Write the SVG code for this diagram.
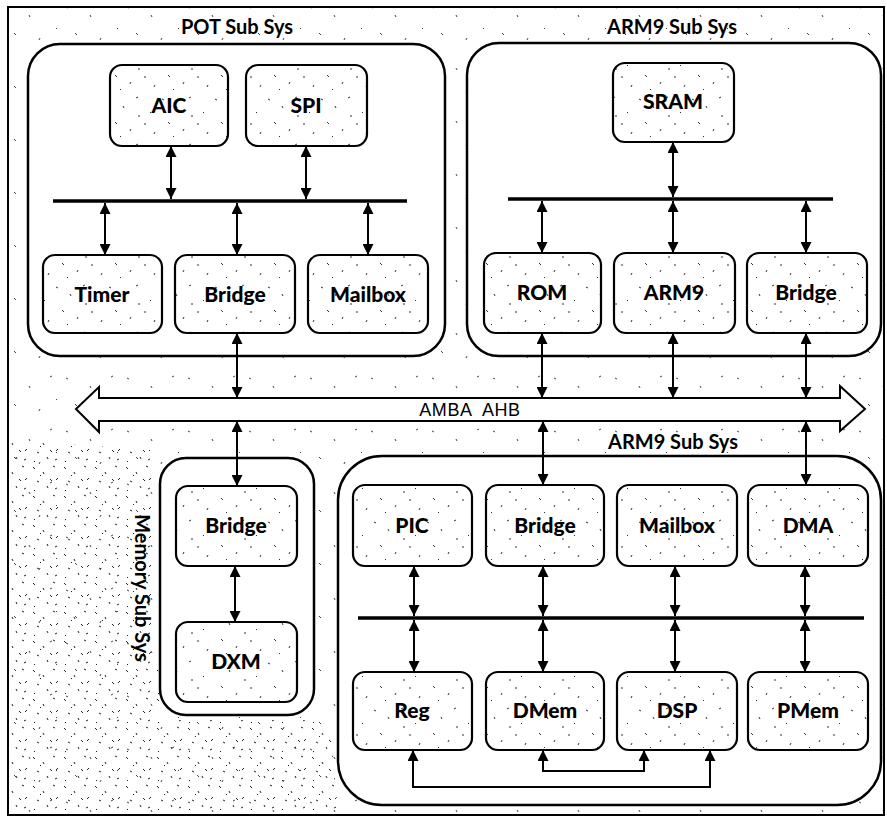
<svg xmlns="http://www.w3.org/2000/svg" width="887" height="817" viewBox="0 0 887 817">
<style>
.cont{fill:#fff;stroke:#000;stroke-width:2.5}
.box{fill:url(#nz);stroke:#000;stroke-width:2.2}
.lbl{font-family:Lato,"Open Sans","Liberation Sans",sans-serif;font-weight:900;font-size:21px;text-anchor:middle;fill:#000}
.ttl{font-family:Lato,"Open Sans","Liberation Sans",sans-serif;font-weight:700;font-size:20px;text-anchor:middle;fill:#000}
.bus{stroke:#000;stroke-width:3.5;fill:none}
.con{stroke:#000;stroke-width:2;fill:none;marker-start:url(#ah);marker-end:url(#ah)}
</style>
<defs>
<marker id="ah" viewBox="0 0 11 11" refX="11" refY="5.5" markerWidth="11" markerHeight="11" markerUnits="userSpaceOnUse" orient="auto-start-reverse">
<path d="M0,0 L11,5.5 L0,11 z" fill="#000"/>
</marker>
<pattern id="nz" width="53" height="47" patternUnits="userSpaceOnUse">
<rect width="53" height="47" fill="#fff"/>
<path d="M3,5 l2,1 M17,12 l1,2 M30,4 l2,-1 M44,18 l1,1 M9,28 l2,2 M25,35 l-1,2 M38,30 l2,0 M48,40 l1,-2 M14,42 l1,1 M33,21 l0,2" stroke="#333" stroke-width="1"/>
</pattern>
<pattern id="nzs" width="61" height="53" patternUnits="userSpaceOnUse">
<rect width="61" height="53" fill="#fff"/>
<path d="M5,7 l2,1 M29,15 l1,2 M50,6 l2,-1 M14,33 l2,2 M40,38 l-1,2 M56,28 l1,1" stroke="#444" stroke-width="1"/>
</pattern>
<pattern id="nz2" width="31" height="29" patternUnits="userSpaceOnUse">
<path d="M2,3 l2,2 M12,8 l1,2 M22,2 l2,1 M27,14 l-2,2 M6,17 l2,1 M16,22 l1,2 M24,25 l2,-1 M9,12 l1,-1 M19,15 l2,2 M3,26 l1,1" stroke="#222" stroke-width="1"/>
</pattern>
</defs>

<g id="background">
<rect x="8" y="7" width="876" height="808" fill="url(#nzs)" stroke="#000" stroke-width="2"/>
<path d="M10,440 L150,450 L160,720 L330,720 L338,813 L10,813 z" fill="url(#nz2)"/>
</g>

<g id="pot-subsys">
<rect class="cont" x="28" y="44" width="417" height="312" rx="32"/>
<text class="ttl" x="237" y="34">POT Sub Sys</text>
</g>
<g id="pot-aic"><rect class="box" x="110" y="65" width="118" height="81" rx="12"/><text class="lbl" x="169" y="113">AIC</text></g>
<g id="pot-spi"><rect class="box" x="246" y="65" width="121" height="81" rx="12"/><text class="lbl" x="306" y="113">SPI</text></g>
<g id="pot-timer"><rect class="box" x="43" y="255" width="119" height="78" rx="12"/><text class="lbl" x="102" y="302">Timer</text></g>
<g id="pot-bridge"><rect class="box" x="175" y="255" width="120" height="78" rx="12"/><text class="lbl" x="235" y="302">Bridge</text></g>
<g id="pot-mailbox"><rect class="box" x="308" y="255" width="120" height="78" rx="12"/><text class="lbl" x="368" y="302">Mailbox</text></g>

<g id="arm9-top-subsys">
<rect class="cont" x="467" y="43" width="414" height="313" rx="32"/>
<text class="ttl" x="672" y="34">ARM9 Sub Sys</text>
</g>
<g id="sram"><rect class="box" x="613" y="63" width="121" height="79" rx="12"/><text class="lbl" x="673" y="109">SRAM</text></g>
<g id="rom"><rect class="box" x="484" y="253" width="117" height="80" rx="12"/><text class="lbl" x="542" y="300">ROM</text></g>
<g id="arm9"><rect class="box" x="614" y="253" width="121" height="80" rx="12"/><text class="lbl" x="674" y="300">ARM9</text></g>
<g id="arm9-bridge"><rect class="box" x="747" y="253" width="120" height="80" rx="12"/><text class="lbl" x="806" y="300">Bridge</text></g>

<g id="amba-ahb">
<polygon points="76,409 99,387 99,398 840,398 840,386 865,409 840,431 840,421 99,421 99,432" fill="#fff" stroke="#000" stroke-width="2"/>
<text x="470" y="416" font-family="'Liberation Sans',Arial,sans-serif" font-size="18" text-anchor="middle" style="white-space:pre" letter-spacing="0.6">AMBA  AHB</text>
</g>

<g id="memory-subsys">
<rect class="cont" x="160" y="458" width="154" height="257" rx="26"/>
<text class="ttl" transform="translate(135,588) rotate(90)" x="0" y="0">Memory Sub Sys</text>
</g>
<g id="mem-bridge"><rect class="box" x="176" y="486" width="121" height="80" rx="12"/><text class="lbl" x="236" y="533">Bridge</text></g>
<g id="dxm"><rect class="box" x="176" y="622" width="121" height="80" rx="12"/><text class="lbl" x="236" y="669">DXM</text></g>

<g id="arm9-bottom-subsys">
<rect class="cont" x="338" y="456" width="543" height="349" rx="44"/>
<text class="ttl" x="673" y="449">ARM9 Sub Sys</text>
</g>
<g id="pic"><rect class="box" x="353" y="485" width="119" height="81" rx="12"/><text class="lbl" x="412" y="533">PIC</text></g>
<g id="dsp-bridge"><rect class="box" x="486" y="485" width="118" height="81" rx="12"/><text class="lbl" x="545" y="533">Bridge</text></g>
<g id="dsp-mailbox"><rect class="box" x="617" y="485" width="120" height="81" rx="12"/><text class="lbl" x="677" y="533">Mailbox</text></g>
<g id="dma"><rect class="box" x="748" y="485" width="120" height="81" rx="12"/><text class="lbl" x="808" y="533">DMA</text></g>
<g id="reg"><rect class="box" x="353" y="672" width="119" height="78" rx="12"/><text class="lbl" x="412" y="718">Reg</text></g>
<g id="dmem"><rect class="box" x="486" y="672" width="118" height="78" rx="12"/><text class="lbl" x="545" y="718">DMem</text></g>
<g id="dsp"><rect class="box" x="617" y="672" width="120" height="78" rx="12"/><text class="lbl" x="677" y="718">DSP</text></g>
<g id="pmem"><rect class="box" x="748" y="672" width="120" height="78" rx="12"/><text class="lbl" x="808" y="718">PMem</text></g>

<g id="connectors">
<line class="bus" x1="53" y1="201" x2="407" y2="201"/>
<line class="bus" x1="508" y1="199" x2="833" y2="199"/>
<line class="bus" x1="358" y1="618" x2="864" y2="618"/>
<line class="con" x1="171" y1="146" x2="171" y2="199"/>
<line class="con" x1="306" y1="146" x2="306" y2="199"/>
<line class="con" x1="105" y1="203" x2="105" y2="255"/>
<line class="con" x1="237" y1="203" x2="237" y2="255"/>
<line class="con" x1="368" y1="203" x2="368" y2="255"/>
<line class="con" x1="673" y1="142" x2="673" y2="197"/>
<line class="con" x1="542" y1="201" x2="542" y2="253"/>
<line class="con" x1="673" y1="201" x2="673" y2="253"/>
<line class="con" x1="806" y1="201" x2="806" y2="253"/>
<line class="con" x1="237" y1="333" x2="237" y2="398"/>
<line class="con" x1="542" y1="333" x2="542" y2="398"/>
<line class="con" x1="673" y1="333" x2="673" y2="398"/>
<line class="con" x1="806" y1="333" x2="806" y2="398"/>
<line class="con" x1="237" y1="421" x2="237" y2="486"/>
<line class="con" x1="543" y1="421" x2="543" y2="485"/>
<line class="con" x1="806" y1="421" x2="806" y2="485"/>
<line class="con" x1="235" y1="566" x2="235" y2="622"/>
<line class="con" x1="414" y1="566" x2="414" y2="616"/>
<line class="con" x1="543" y1="566" x2="543" y2="616"/>
<line class="con" x1="675" y1="566" x2="675" y2="616"/>
<line class="con" x1="805" y1="566" x2="805" y2="616"/>
<line class="con" x1="414" y1="620" x2="414" y2="672"/>
<line class="con" x1="543" y1="620" x2="543" y2="672"/>
<line class="con" x1="675" y1="620" x2="675" y2="672"/>
<line class="con" x1="805" y1="620" x2="805" y2="672"/>
<path class="con" d="M543,750 V771 H644 V750"/>
<path class="con" d="M413,750 V787 H710 V750"/>
</g>
</svg>
